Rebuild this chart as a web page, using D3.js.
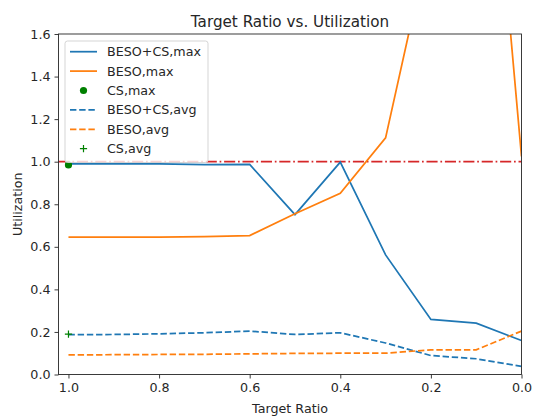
<!DOCTYPE html>
<html>
<head>
<meta charset="utf-8">
<script src="https://cdn.jsdelivr.net/npm/d3@7"></script>
<style>
  body { margin: 0; background: #fff; }
  text { font-family: "DejaVu Sans", sans-serif; fill: #262626; }
</style>
</head>
<body>
<svg width="533" height="418"></svg>
<script>
// target ratios, 1.0 down to 0.0
var ratios = [1.0, 0.9, 0.8, 0.7, 0.6, 0.5, 0.4, 0.3, 0.2, 0.1, 0.0];

var besoCsMax = [0.99, 0.99, 0.99, 0.986, 0.987, 0.751, 0.998, 0.562, 0.259, 0.241, 0.16];
var besoMax   = [0.645, 0.645, 0.646, 0.648, 0.653, 0.755, 0.852, 1.112, 2.07, 3.42, 1.025];
var besoCsAvg = [0.187, 0.188, 0.191, 0.196, 0.204, 0.188, 0.196, 0.148, 0.089, 0.074, 0.038];
var besoAvg   = [0.092, 0.093, 0.094, 0.095, 0.097, 0.099, 0.1, 0.1, 0.116, 0.116, 0.204];

var csMax = [{x: 1.0, y: 0.985}];
var csAvg = [{x: 1.0, y: 0.19}];

var xTicks = [1.0, 0.8, 0.6, 0.4, 0.2, 0.0];
var yTicks = [0.0, 0.2, 0.4, 0.6, 0.8, 1.0, 1.2, 1.4, 1.6];

var plotL = 58.5, plotR = 521.5, plotT = 34, plotB = 374.5;
var fs = '12.7px';

var svg = d3.select('svg');

var x = d3.scaleLinear().domain([1.022, 0]).range([plotL, plotR]);
var y = d3.scaleLinear().domain([0, 1.6]).range([plotB, plotT]);

svg.append('defs').append('clipPath').attr('id', 'clip')
    .append('rect')
    .attr('x', plotL).attr('y', plotT)
    .attr('width', plotR - plotL).attr('height', plotB - plotT);

var plot = svg.append('g').attr('clip-path', 'url(#clip)');

var line = d3.line()
    .x(function(d){ return x(d[0]); })
    .y(function(d){ return y(d[1]); });

function series(vals) {
    return ratios.map(function(r, i){ return [r, vals[i]]; });
}

var lines = [
    {vals: besoCsMax, color: '#1f77b4', dash: null},
    {vals: besoMax, color: '#ff7f0e', dash: null},
    {vals: besoCsAvg, color: '#1f77b4', dash: '6.4,2.8'},
    {vals: besoAvg, color: '#ff7f0e', dash: '6.4,2.8'}
];

// limit line at 1.0
plot.append('line')
    .attr('x1', plotL).attr('x2', plotR)
    .attr('y1', y(1)).attr('y2', y(1))
    .attr('stroke', '#d62728')
    .attr('stroke-width', 1.74)
    .attr('stroke-dasharray', '11.1,2.8,1.7,2.8');

lines.forEach(function(s){
    plot.append('path')
        .datum(series(s.vals))
        .attr('d', line)
        .attr('fill', 'none')
        .attr('stroke', s.color)
        .attr('stroke-width', 1.74)
        .attr('stroke-dasharray', s.dash);
});

svg.selectAll('.csmax')
    .data(csMax)
    .enter()
    .append('circle')
    .attr('class', 'csmax')
    .attr('cx', function(d){ return x(d.x); })
    .attr('cy', function(d){ return y(d.y); })
    .attr('r', 3.6)
    .attr('fill', '#008000');

svg.selectAll('.csavg')
    .data(csAvg)
    .enter()
    .append('path')
    .attr('class', 'csavg')
    .attr('d', function(d){
        var cx = x(d.x), cy = y(d.y);
        return 'M' + (cx - 3.6) + ',' + cy + 'H' + (cx + 3.6) +
               'M' + cx + ',' + (cy - 3.6) + 'V' + (cy + 3.6);
    })
    .attr('stroke', '#008000')
    .attr('stroke-width', 1.2);

// axes
var xAxis = svg.append('g')
    .attr('transform', 'translate(0,' + plotB + ')')
    .call(d3.axisBottom(x).tickValues(xTicks).tickFormat(d3.format('.1f')).tickSize(4).tickPadding(4));
var yAxis = svg.append('g')
    .attr('transform', 'translate(' + plotL + ',0)')
    .call(d3.axisLeft(y).tickValues(yTicks).tickFormat(d3.format('.1f')).tickSize(4).tickPadding(4));

[xAxis, yAxis].forEach(function(a){
    a.select('.domain').remove();
    a.selectAll('line').attr('stroke', '#262626').attr('stroke-width', 0.9);
    a.selectAll('text').attr('font-size', fs).attr('fill', '#262626')
        .style('font-family', '"DejaVu Sans", sans-serif');
});

svg.append('rect')
    .attr('x', plotL).attr('y', plotT)
    .attr('width', plotR - plotL).attr('height', plotB - plotT)
    .attr('fill', 'none')
    .attr('stroke', '#262626')
    .attr('stroke-width', 0.9);

// titles
svg.append('text')
    .attr('x', (plotL + plotR) / 2).attr('y', 27)
    .attr('text-anchor', 'middle')
    .attr('font-size', '15.2px')
    .text('Target Ratio vs. Utilization');

svg.append('text')
    .attr('x', (plotL + plotR) / 2).attr('y', 413)
    .attr('text-anchor', 'middle')
    .attr('font-size', fs)
    .text('Target Ratio');

svg.append('text')
    .attr('transform', 'translate(21.5,' + ((plotT + plotB) / 2) + ') rotate(-90)')
    .attr('text-anchor', 'middle')
    .attr('font-size', fs)
    .text('Utilization');

// legend
var legendItems = [
    {label: 'BESO+CS,max', color: '#1f77b4', type: 'line', dash: null},
    {label: 'BESO,max', color: '#ff7f0e', type: 'line', dash: null},
    {label: 'CS,max', color: '#008000', type: 'dot'},
    {label: 'BESO+CS,avg', color: '#1f77b4', type: 'line', dash: '6.4,2.8'},
    {label: 'BESO,avg', color: '#ff7f0e', type: 'line', dash: '6.4,2.8'},
    {label: 'CS,avg', color: '#008000', type: 'plus'}
];

var lg = svg.append('g');
lg.append('rect')
    .attr('x', 65).attr('y', 41)
    .attr('width', 143).attr('height', 121.5)
    .attr('rx', 2.5)
    .attr('fill', 'rgba(255,255,255,0.8)')
    .attr('stroke', '#d0d0d0')
    .attr('stroke-width', 0.9);

var rows = lg.selectAll('.item')
    .data(legendItems)
    .enter()
    .append('g')
    .attr('class', 'item')
    .attr('transform', function(d, i){ return 'translate(0,' + (51.7 + i * 19.4) + ')'; });

rows.each(function(d){
    var g = d3.select(this);
    if (d.type == 'line') {
        g.append('line')
            .attr('x1', 70).attr('x2', 97)
            .attr('stroke', d.color)
            .attr('stroke-width', 1.74)
            .attr('stroke-dasharray', d.dash);
    } else if (d.type == 'dot') {
        g.append('circle').attr('cx', 83.5).attr('r', 3.6).attr('fill', d.color);
    } else {
        g.append('path')
            .attr('d', 'M79.9,0H87.1M83.5,-3.6V3.6')
            .attr('stroke', d.color)
            .attr('stroke-width', 1.2);
    }
    g.append('text')
        .attr('x', 107).attr('dy', '0.35em')
        .attr('font-size', fs)
        .text(d.label);
});
</script>
</body>
</html>
